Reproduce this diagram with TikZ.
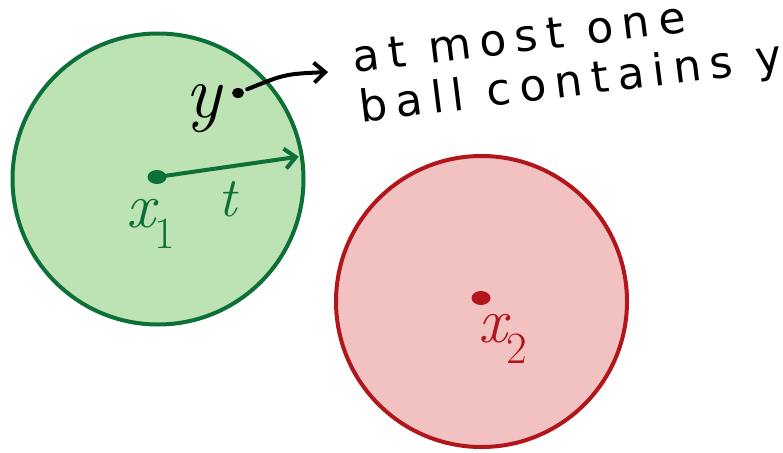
\documentclass[tikz,border=0pt]{standalone}
\usepackage{fontspec}
\newfontfamily\handfont{DejaVu Sans}[LetterSpace=20]
\usetikzlibrary{arrows.meta,shapes.geometric}
\definecolor{ballG}{RGB}{12,112,56}
\definecolor{ballGfill}{RGB}{189,226,180}
\definecolor{ballR}{RGB}{178,22,26}
\definecolor{ballRfill}{RGB}{242,194,194}
\tikzset{>={Straight Barb[length=11pt,width=20pt]},
  ball/.style={circle,draw=#1,line width=4pt,minimum size=291pt,inner sep=0pt},
  pt/.style={ellipse,fill=#1,minimum width=19pt,minimum height=14pt,inner sep=0pt},
  lbl/.style={inner sep=0pt,font=\itshape\fontsize{64}{68}\selectfont},
  note/.style={align=left,inner sep=0pt,font=\handfont\fontsize{44}{50}\selectfont},
  flow/.style={line width=4pt,->,line cap=round}}

\begin{document}
\begin{tikzpicture}[x=1pt,y=-1pt]
\useasboundingbox (0,0) rectangle (783,452);
\node[ball=ballG,fill=ballGfill] (b1) at (158,179) {};
\node[ball=ballR,fill=ballRfill] (b2) at (481.5,301.5) {};
\node[pt=ballG] (x1) at (157,177) {};\node[pt=ballR] (x2) at (481,298) {};
\node[pt=black,minimum width=12pt,minimum height=10pt] (y) at (238,93) {};
\node[lbl,text=ballG] (x1lab) at (151,224) {x\textsubscript{\upshape 1}};
\node[lbl,text=ballG,font=\itshape\fontsize{56}{60}\selectfont] (tlab) at (228,199) {t};
\node[lbl,text=ballR] (x2lab) at (503,339) {x\textsubscript{\upshape 2}};
\node[lbl,font=\itshape\fontsize{75}{80}\selectfont] (ylab) at (203,109) {y};
\node[note,rotate=7,anchor=north west] (msg) at (351,42) {at most one\\ball contains y};
\coordinate (tip) at (328,72);
\draw[flow,draw=ballG,shorten >=5pt] (x1) -- (b1.9);
\draw[flow,shorten <=4pt] (y) .. controls (285,74) .. (tip);
\end{tikzpicture}
\end{document}
